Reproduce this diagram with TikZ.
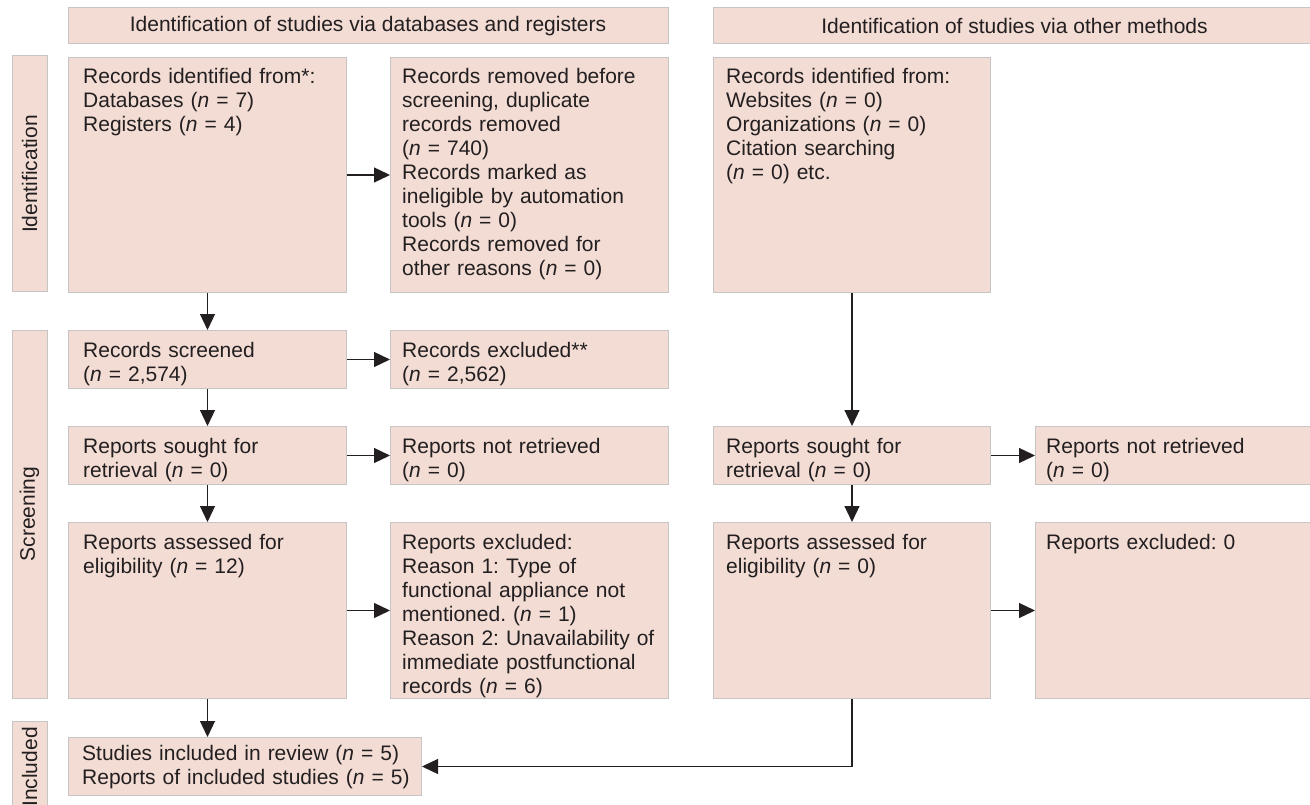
\documentclass[tikz,border=0pt]{standalone}
\usepackage{fontspec}
\setmainfont{Liberation Sans}
\usepackage{tikz}
\usetikzlibrary{shapes,arrows.meta,positioning}
\frenchspacing

\definecolor{boxfill}{RGB}{242,220,212}
\definecolor{boxline}{RGB}{198,196,196}
\definecolor{ink}{RGB}{35,31,32}

\begin{document}
\begin{tikzpicture}[x=1pt, y=-1pt,
    box/.style={draw=boxline, fill=boxfill, line width=1pt, inner sep=0pt, anchor=north west},
    txt/.style={anchor=base west, align=left, text width=420pt, inner sep=0pt, text=ink,
      font=\fontsize{21}{24}\selectfont},
    head/.style={draw=boxline, fill=boxfill, line width=1pt, minimum height=36pt, text=ink,
      font=\fontsize{21}{24}\selectfont},
    side/.style={head, minimum height=35pt, rotate=90},
    arr/.style={draw=ink, line width=1.3pt, -{Triangle[length=16pt, width=15pt]}}
  ]
    \useasboundingbox (0,0) rectangle (1310,805);

    % Headers
    \node[head, minimum width=600pt] (db-head) at (368,26) {Identification of studies via databases and registers};
    \node[head, minimum width=603pt] (om-head) at (1014.5,26) {Identification of studies via other methods};

    % Phase labels
    \node[side, minimum width=236pt] (ident-lbl) at (29.5,174) {Identification};
    \node[side, minimum width=368pt] (screen-lbl) at (29.5,514) {Screening};
    \node[side, minimum width=92pt] (incl-lbl) at (29.5,767) {Included};

    % Databases and registers
    \node[box, minimum width=278pt, minimum height=235pt] (ident) at (68,57) {};
    \node[txt] (ident-t) at ([shift={(15,27)}]ident.north west)
      {Records identified from*:\\Databases (\textit{n} = 7)\\Registers (\textit{n} = 4)};

    \node[box, minimum width=278pt, minimum height=235pt] (removed) at (390,57) {};
    \node[txt] (removed-t) at ([shift={(12,27)}]removed.north west)
      {Records removed before\\screening, duplicate\\records removed\\(\textit{n} = 740)\\Records marked as\\ineligible by automation\\tools (\textit{n} = 0)\\Records removed for\\other reasons (\textit{n} = 0)};

    \node[box, minimum width=278pt, minimum height=58pt] (screened) at (68,330) {};
    \node[txt] (screened-t) at ([shift={(15,27)}]screened.north west)
      {Records screened\\(\textit{n} = 2,574)};

    \node[box, minimum width=278pt, minimum height=58pt] (excluded) at (390,330) {};
    \node[txt] (excluded-t) at ([shift={(12,27)}]excluded.north west)
      {Records excluded**\\(\textit{n} = 2,562)};

    \node[box, minimum width=278pt, minimum height=58pt] (sought) at (68,426) {};
    \node[txt] (sought-t) at ([shift={(15,27)}]sought.north west)
      {Reports sought for\\retrieval (\textit{n} = 0)};

    \node[box, minimum width=278pt, minimum height=58pt] (notret) at (390,426) {};
    \node[txt] (notret-t) at ([shift={(12,27)}]notret.north west)
      {Reports not retrieved\\(\textit{n} = 0)};

    \node[box, minimum width=278pt, minimum height=176pt] (assessed) at (68,522) {};
    \node[txt] (assessed-t) at ([shift={(15,27)}]assessed.north west)
      {Reports assessed for\\eligibility (\textit{n} = 12)};

    \node[box, minimum width=278pt, minimum height=176pt] (rep-excl) at (390,522) {};
    \node[txt] (rep-excl-t) at ([shift={(12,27)}]rep-excl.north west)
      {Reports excluded:\\Reason 1: Type of\\functional appliance not\\mentioned. (\textit{n} = 1)\\Reason 2: Unavailability of\\immediate postfunctional\\records (\textit{n} = 6)};

    \node[box, minimum width=353pt, minimum height=58pt] (included) at (68,737) {};
    \node[txt] (included-t) at ([shift={(14,23)}]included.north west)
      {Studies included in review (\textit{n} = 5)\\Reports of included studies (\textit{n} = 5)};

    % Other methods
    \node[box, minimum width=277pt, minimum height=235pt] (other) at (713,57) {};
    \node[txt] (other-t) at ([shift={(13,27)}]other.north west)
      {Records identified from:\\Websites (\textit{n} = 0)\\Organizations (\textit{n} = 0)\\Citation searching\\(\textit{n} = 0) etc.};

    \node[box, minimum width=277pt, minimum height=58pt] (o-sought) at (713,426) {};
    \node[txt] (o-sought-t) at ([shift={(13,27)}]o-sought.north west)
      {Reports sought for\\retrieval (\textit{n} = 0)};

    \node[box, minimum width=281pt, minimum height=58pt] (o-notret) at (1035,426) {};
    \node[txt] (o-notret-t) at ([shift={(11,27)}]o-notret.north west)
      {Reports not retrieved\\(\textit{n} = 0)};

    \node[box, minimum width=277pt, minimum height=176pt] (o-assessed) at (713,522) {};
    \node[txt] (o-assessed-t) at ([shift={(13,27)}]o-assessed.north west)
      {Reports assessed for\\eligibility (\textit{n} = 0)};

    \node[box, minimum width=281pt, minimum height=176pt] (o-excl) at (1035,522) {};
    \node[txt] (o-excl-t) at ([shift={(11,27)}]o-excl.north west)
      {Reports excluded: 0};

    % Arrows
    \draw[arr] (ident) -- (removed);
    \draw[arr] (ident) -- (screened);
    \draw[arr] (screened) -- (excluded);
    \draw[arr] (screened) -- (sought);
    \draw[arr] (sought) -- (notret);
    \draw[arr] (sought) -- (assessed);
    \draw[arr] (assessed) -- (rep-excl);
    \draw[arr] (assessed.south) -- (assessed.south |- included.north);
    \draw[arr] (other) -- (o-sought);
    \draw[arr] (o-sought) -- (o-notret);
    \draw[arr] (o-sought) -- (o-assessed);
    \draw[arr] (o-assessed) -- (o-excl);
    \draw[arr] (o-assessed.south) |- (included.east);
\end{tikzpicture}
\end{document}
